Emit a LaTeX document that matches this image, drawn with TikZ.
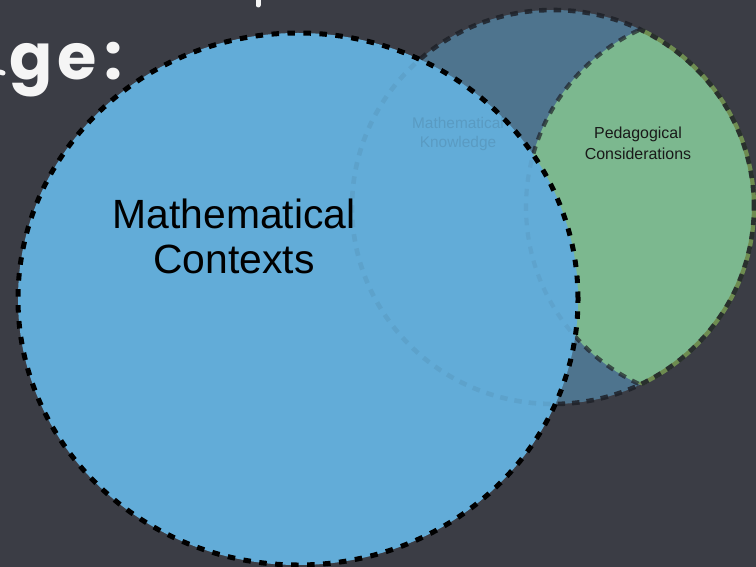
\documentclass[tikz,border=0pt]{standalone}
\usepackage{fontspec}
\setmainfont{Liberation Sans}
\newfontfamily\chalkfont{Poppins}
\begin{document}
\begin{tikzpicture}[x=1bp,y=-1bp]
\definecolor{board}{RGB}{59,61,69}
\definecolor{ctxblue}{RGB}{98,172,216}
\definecolor{knowblue}{RGB}{98,172,216}
\definecolor{pedgreen}{RGB}{124,184,143}
\definecolor{olivedash}{RGB}{110,140,80}
\definecolor{darkdash}{RGB}{30,33,40}
\definecolor{chalk}{RGB}{245,245,245}
\tikzset{
  ctxborder/.style={draw=black, line width=5bp, dash pattern=on 7.5bp off 8.5bp},
  knowborder/.style={draw=darkdash, draw opacity=0.85, line width=4.6bp, dash pattern=on 7.5bp off 7bp},
  pedborder/.style={draw=darkdash, draw opacity=0.7, line width=4.2bp, dash pattern=on 7.5bp off 7bp},
  bigtext/.style={align=center, inner sep=0pt, text=black, font=\fontsize{41}{45}\selectfont},
  smalltext/.style={align=center, inner sep=0pt, text=black!90, font=\fontsize{16}{21}\selectfont},
  fainttext/.style={align=center, inner sep=0pt, text=darkdash, font=\fontsize{15.5}{20}\selectfont},
  chalktext/.style={inner sep=0pt, text=chalk, font=\chalkfont\bfseries\fontsize{64}{70}\selectfont}
}
\useasboundingbox (0,0) rectangle (756,567);
\fill[board] (0,0) rectangle (756,567);

% Mathematical Knowledge circle
\fill[knowblue, fill opacity=0.5] (553,207) ellipse [x radius=201bp, y radius=197bp];
% Pedagogical Considerations circle, clipped to the knowledge circle
\begin{scope}
  \clip (553,207) ellipse [x radius=201bp, y radius=197bp];
  \fill[pedgreen] (721,207) circle [radius=195bp];
  \draw[pedborder] (721,207) circle [radius=195bp];
\end{scope}
\begin{scope}
  \clip (721,207) circle [radius=195bp];
  \draw[olivedash, line width=4.2bp] (553,207) ellipse [x radius=201bp, y radius=197bp];
\end{scope}
\draw[knowborder] (553,207) ellipse [x radius=201bp, y radius=197bp];

\node[fainttext] (know) at (458,134) {Mathematical\\Knowledge};
\node[smalltext] (ped) at (638,143) {Pedagogical\\Considerations};

% Mathematical Contexts circle (opaque, with faint traces of what lies beneath)
\fill[ctxblue] (298,299) ellipse [x radius=280bp, y radius=266bp];
\begin{scope}
  \clip (298,299) ellipse [x radius=280bp, y radius=266bp];
  \draw[knowborder, draw opacity=0.07] (553,207) ellipse [x radius=201bp, y radius=197bp];
  \begin{scope}
    \clip (553,207) ellipse [x radius=201bp, y radius=197bp];
    \draw[pedborder, draw opacity=0.06] (721,207) circle [radius=195bp];
  \end{scope}
  \node[fainttext, text opacity=0.12] at (know) {Mathematical\\Knowledge};
\end{scope}
\draw[ctxborder] (298,299) ellipse [x radius=280bp, y radius=266bp];
\node[bigtext] (ctx) at (234,236) {Mathematical\\Contexts};

% chalk title fragments
\node[chalktext, anchor=base west] (title) at (9,80) {g\kern5bp e\kern8bp :};
\draw[chalk, line width=5bp, line cap=round] (258,0) -- (258,5);
\draw[chalk, line width=5bp, line cap=round] (0,72) -- (3,73);
\end{tikzpicture}
\end{document}
